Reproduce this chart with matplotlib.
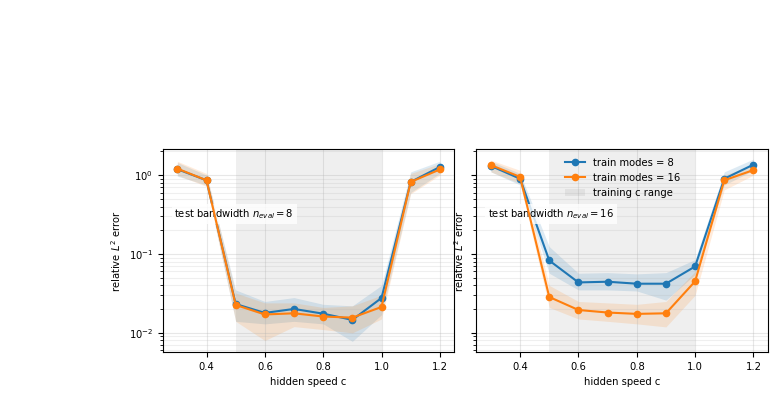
import numpy as np
import matplotlib
matplotlib.use("Agg")
import matplotlib.pyplot as plt

c = [0.3, 0.4, 0.5, 0.6, 0.7, 0.8, 0.9, 1.0, 1.1, 1.2]

# Panel 1: test bandwidth n_eval = 8
p1_m8 = [1.19, 0.86, 0.0232, 0.0179, 0.0201, 0.0175, 0.0146, 0.0277, 0.82, 1.27]
p1_m8_lo = [0.97, 0.75, 0.014, 0.013, 0.014, 0.013, 0.0078, 0.017, 0.60, 1.05]
p1_m8_hi = [1.45, 1.00, 0.035, 0.025, 0.028, 0.023, 0.022, 0.040, 1.10, 1.50]
p1_m16 = [1.21, 0.86, 0.0226, 0.0171, 0.0177, 0.0161, 0.0156, 0.0213, 0.82, 1.18]
p1_m16_lo = [1.00, 0.72, 0.014, 0.008, 0.012, 0.011, 0.010, 0.015, 0.58, 1.00]
p1_m16_hi = [1.50, 1.05, 0.032, 0.024, 0.024, 0.021, 0.022, 0.030, 1.05, 1.40]

# Panel 2: test bandwidth n_eval = 16
p2_m8 = [1.31, 0.90, 0.0827, 0.0436, 0.0445, 0.0420, 0.0420, 0.0695, 0.90, 1.36]
p2_m8_lo = [1.10, 0.75, 0.057, 0.035, 0.035, 0.034, 0.026, 0.055, 0.75, 1.15]
p2_m8_hi = [1.50, 1.05, 0.124, 0.057, 0.058, 0.056, 0.058, 0.085, 1.10, 1.60]
p2_m16 = [1.34, 0.95, 0.0285, 0.0195, 0.0181, 0.0174, 0.0177, 0.045, 0.86, 1.16]
p2_m16_lo = [1.10, 0.78, 0.021, 0.015, 0.014, 0.013, 0.0119, 0.030, 0.65, 1.00]
p2_m16_hi = [1.55, 1.15, 0.040, 0.025, 0.024, 0.023, 0.025, 0.060, 1.00, 1.35]

panels = [
    (8, p1_m8, p1_m8_lo, p1_m8_hi, p1_m16, p1_m16_lo, p1_m16_hi),
    (16, p2_m8, p2_m8_lo, p2_m8_hi, p2_m16, p2_m16_lo, p2_m16_hi),
]
train_range = (0.5, 1.0)
blue = "#1f77b4"
orange = "#ff7f0e"
fs = 7.2

fig, axes = plt.subplots(1, 2, figsize=(7.75, 4.08), dpi=100, sharey=True)
fig.subplots_adjust(left=0.21, right=0.991, top=0.635, bottom=0.137, wspace=0.075)

for i, (ax, (neval, m8, m8lo, m8hi, m16, m16lo, m16hi)) in enumerate(zip(axes, panels)):
    ax.axvspan(*train_range, color="0.5", alpha=0.12, lw=0, label="training c range", zorder=0)
    ax.fill_between(c, m8lo, m8hi, color=blue, alpha=0.15, lw=0, zorder=1)
    ax.plot(c, m8, "-o", color=blue, ms=4.5, lw=1.5, label="train modes = 8", zorder=3)
    ax.fill_between(c, m16lo, m16hi, color=orange, alpha=0.15, lw=0, zorder=1)
    ax.plot(c, m16, "-o", color=orange, ms=4.5, lw=1.5, label="train modes = 16", zorder=4)
    ax.set_yscale("log")
    ax.set_xlim(0.25, 1.25)
    ax.set_ylim(0.0057, 2.15)
    ax.set_xticks([0.4, 0.6, 0.8, 1.0, 1.2])
    ax.grid(True, which="major", alpha=0.3)
    ax.grid(True, which="minor", axis="y", alpha=0.2)
    ax.set_xlabel("hidden speed c", fontsize=fs)
    ax.set_ylabel("relative $L^2$ error", fontsize=fs)
    ax.tick_params(labelsize=fs)
    ax.text(0.04, 0.68, f"test bandwidth $n_{{eval}} = {neval}$", transform=ax.transAxes,
            fontsize=fs, va="center", ha="left",
            bbox=dict(facecolor="white", edgecolor="none", alpha=0.8, pad=2))
    if i == 1:
        h, l = ax.get_legend_handles_labels()
        order = [1, 2, 0]
        ax.legend([h[k] for k in order], [l[k] for k in order], loc="upper center",
                  fontsize=fs, frameon=False, bbox_to_anchor=(0.5, 1.0))
    for s in ax.spines.values():
        s.set_linewidth(0.8)

fig.savefig("out.png", dpi=100)
